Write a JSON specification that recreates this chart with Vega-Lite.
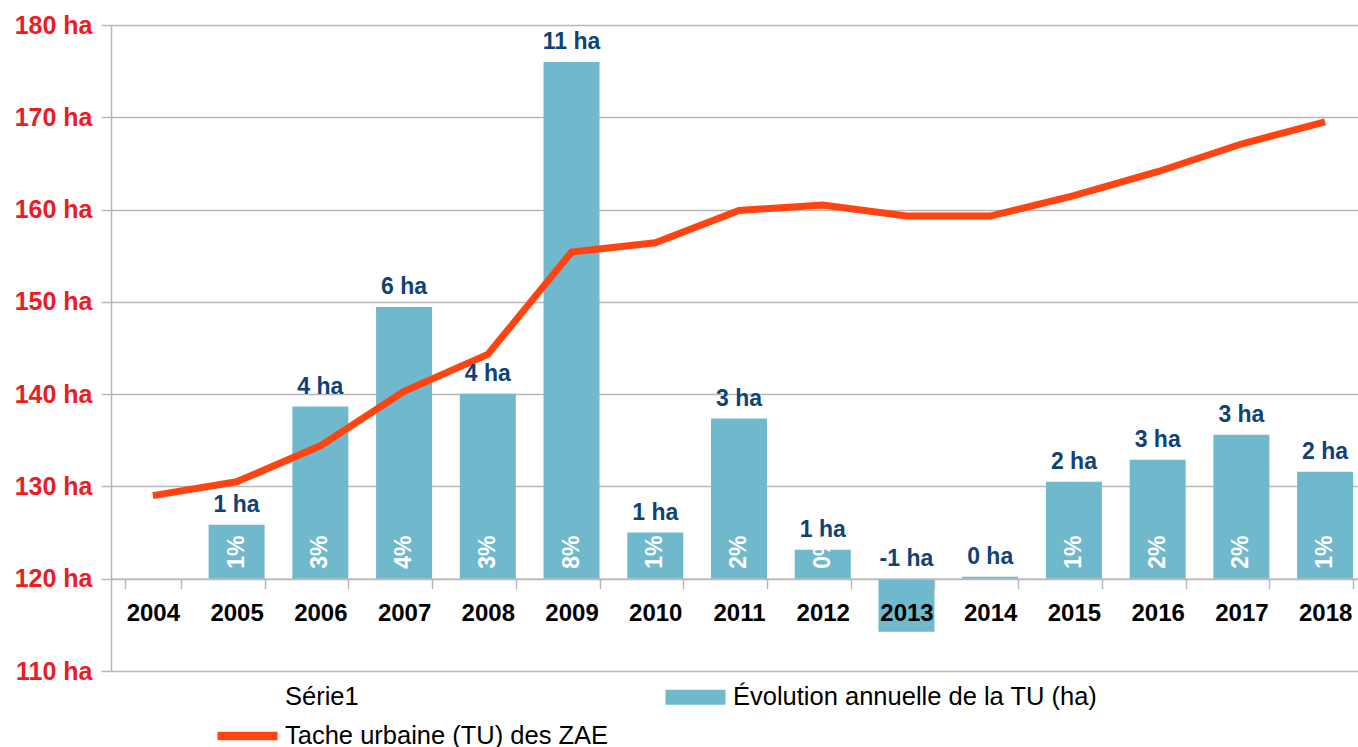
{
  "$schema": "https://vega.github.io/schema/vega-lite/v6.json",
  "width": 1256,
  "height": 646,
  "autosize": {"type": "none"},
  "padding": {"left": 111, "top": 25, "right": -9, "bottom": 76},
  "config": {"font": "Liberation Sans", "view": {"stroke": null}},
  "data": {
    "values": [
      {"annee": "2004", "tu": 129.0, "evol": 0, "lab": null, "pct": null, "serie": "Évolution annuelle de la TU (ha)"},
      {"annee": "2005", "tu": 130.5, "evol": 1.17, "lab": "1 ha", "pct": "1%", "serie": "Évolution annuelle de la TU (ha)"},
      {"annee": "2006", "tu": 134.4, "evol": 3.73, "lab": "4 ha", "pct": "3%", "serie": "Évolution annuelle de la TU (ha)"},
      {"annee": "2007", "tu": 140.3, "evol": 5.89, "lab": "6 ha", "pct": "4%", "serie": "Évolution annuelle de la TU (ha)"},
      {"annee": "2008", "tu": 144.3, "evol": 4.01, "lab": "4 ha", "pct": "3%", "serie": "Évolution annuelle de la TU (ha)"},
      {"annee": "2009", "tu": 155.4, "evol": 11.2, "lab": "11 ha", "pct": "8%", "serie": "Évolution annuelle de la TU (ha)"},
      {"annee": "2010", "tu": 156.4, "evol": 1.0, "lab": "1 ha", "pct": "1%", "serie": "Évolution annuelle de la TU (ha)"},
      {"annee": "2011", "tu": 159.9, "evol": 3.47, "lab": "3 ha", "pct": "2%", "serie": "Évolution annuelle de la TU (ha)"},
      {"annee": "2012", "tu": 160.5, "evol": 0.63, "lab": "1 ha", "pct": "0%", "serie": "Évolution annuelle de la TU (ha)"},
      {"annee": "2013", "tu": 159.3, "evol": -1.15, "lab": "-1 ha", "pct": null, "serie": "Évolution annuelle de la TU (ha)"},
      {"annee": "2014", "tu": 159.3, "evol": 0.04, "lab": "0 ha", "pct": null, "serie": "Évolution annuelle de la TU (ha)"},
      {"annee": "2015", "tu": 161.5, "evol": 2.1, "lab": "2 ha", "pct": "1%", "serie": "Évolution annuelle de la TU (ha)"},
      {"annee": "2016", "tu": 164.1, "evol": 2.58, "lab": "3 ha", "pct": "2%", "serie": "Évolution annuelle de la TU (ha)"},
      {"annee": "2017", "tu": 167.1, "evol": 3.12, "lab": "3 ha", "pct": "2%", "serie": "Évolution annuelle de la TU (ha)"},
      {"annee": "2018", "tu": 169.5, "evol": 2.32, "lab": "2 ha", "pct": "1%", "serie": "Évolution annuelle de la TU (ha)"}
    ]
  },
  "encoding": {
    "x": {
      "field": "annee",
      "type": "ordinal",
      "sort": null,
      "scale": {"paddingInner": 0.331, "paddingOuter": 0.1655},
      "axis": {
        "title": null,
        "labelAngle": 0,
        "labelFont": "Liberation Sans",
        "labelFontSize": 24,
        "labelFontWeight": "bold",
        "labelColor": "#000000",
        "offset": -92.3,
        "tickBand": "extent",
        "tickSize": 10,
        "tickColor": "#b8b8b8",
        "tickWidth": 1.5,
        "domainColor": "#b8b8b8",
        "domainWidth": 1.5,
        "labelPadding": 13,
        "grid": false,
        "zindex": 1
      }
    }
  },
  "layer": [
    {
      "mark": {"type": "bar"},
      "encoding": {
        "y": {"field": "evol", "type": "quantitative", "scale": {"domain": [-2, 12], "nice": false}, "axis": null},
        "color": {
          "field": "serie",
          "type": "nominal",
          "sort": null,
          "scale": {
            "domain": ["Série1", "Tache urbaine (TU) des ZAE", "Évolution annuelle de la TU (ha)"],
            "range": ["transparent", "#FF4411", "#70B9CD"]
          },
          "legend": {
            "orient": "none",
            "legendX": 117.5,
            "legendY": 653,
            "columns": 2,
            "title": null,
            "labelFont": "Liberation Sans",
            "labelFontSize": 25.5,
            "labelColor": "#000000",
            "symbolSize": 1444,
            "labelOffset": 18.5,
            "columnPadding": 56,
            "rowPadding": 6,
            "padding": 0,
            "labelLimit": 600,
            "symbolStrokeWidth": 0,
            "encode": {
              "symbols": {
                "update": {
                  "shape": [
                    {"test": "datum.value === 'Tache urbaine (TU) des ZAE'", "value": "M-1.58,-0.22H1.58V0.22H-1.58Z"},
                    {"value": "M-1.58,-0.395H1.58V0.395H-1.58Z"}
                  ]
                }
              }
            }
          }
        }
      }
    },
    {
      "mark": {"type": "line", "color": "#FF4411", "strokeWidth": 7, "strokeCap": "butt", "strokeJoin": "miter"},
      "encoding": {
        "y": {
          "field": "tu",
          "type": "quantitative",
          "scale": {"domain": [110, 180], "nice": false, "zero": false},
          "axis": {
            "orient": "left",
            "title": null,
            "values": [110, 120, 130, 140, 150, 160, 170, 180],
            "labelExpr": "datum.value + ' ha'",
            "labelFont": "Liberation Sans",
            "labelFontSize": 25,
            "labelFontWeight": "bold",
            "labelColor": "#ED1C24",
            "labelPadding": 9,
            "tickSize": 10,
            "tickColor": "#b8b8b8",
            "tickWidth": 1.5,
            "domainColor": "#b8b8b8",
            "domainWidth": 1.5,
            "grid": true,
            "gridColor": "#b8b8b8",
            "gridWidth": 1.5
          }
        }
      }
    },
    {
      "transform": [{"filter": "datum.lab != null && datum.evol >= 0"}],
      "mark": {"type": "text", "baseline": "alphabetic", "dy": -13, "fontSize": 23, "fontWeight": "bold", "color": "#0F4374", "font": "Liberation Sans"},
      "encoding": {
        "y": {"field": "evol", "type": "quantitative", "scale": {"domain": [-2, 12], "nice": false}, "axis": null},
        "text": {"field": "lab"}
      }
    },
    {
      "transform": [{"filter": "datum.lab != null && datum.evol < 0"}],
      "mark": {"type": "text", "baseline": "alphabetic", "dy": -13, "fontSize": 23, "fontWeight": "bold", "color": "#0F4374", "font": "Liberation Sans"},
      "encoding": {
        "y": {"datum": 0, "type": "quantitative", "scale": {"domain": [-2, 12], "nice": false}, "axis": null},
        "text": {"field": "lab"}
      }
    },
    {
      "transform": [{"filter": "datum.pct != null"}],
      "mark": {"type": "text", "angle": 270, "align": "left", "baseline": "middle", "dx": 10, "fontSize": 23, "fontWeight": "bold", "color": "#ffffff", "font": "Liberation Sans"},
      "encoding": {
        "y": {"datum": 0, "type": "quantitative", "scale": {"domain": [-2, 12], "nice": false}, "axis": null},
        "text": {"field": "pct"}
      }
    }
  ],
  "resolve": {"scale": {"y": "independent"}}
}
